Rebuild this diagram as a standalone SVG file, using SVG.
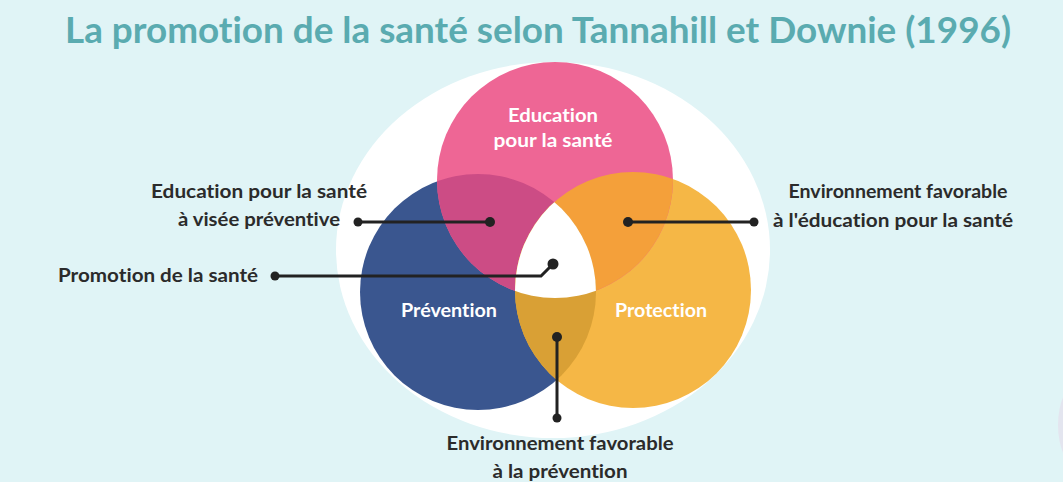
<svg xmlns="http://www.w3.org/2000/svg" width="1063" height="482" viewBox="0 0 1063 482">
<style>
.t{font-family:Lato,"Open Sans","Liberation Sans",sans-serif;font-weight:700;font-variant-ligatures:none;font-feature-settings:"liga" 0,"dlig" 0;}
.lab{font-size:18px;fill:#2b2b2b;}
.in{font-size:19px;fill:#ffffff;}
.ln{stroke:#222;stroke-width:3;fill:none;}
.dot{fill:#222;}
</style>
<defs>
<clipPath id="cPink"><circle cx="555" cy="180" r="118"/></clipPath>
<clipPath id="cBlue"><circle cx="478" cy="292" r="118"/></clipPath>
<clipPath id="cOrange"><circle cx="633" cy="290" r="118"/></clipPath>
</defs>
<rect width="1063" height="482" fill="#e0f4f6"/>
<ellipse cx="1078" cy="425" rx="20" ry="42" fill="#e3e5ef"/>
<text class="t" x="538" y="43" text-anchor="middle" font-size="37" fill="#5aabb0" textLength="946" lengthAdjust="spacingAndGlyphs">La promotion de la santé selon Tannahill et Downie (1996)</text>
<ellipse cx="553" cy="250" rx="217" ry="188" fill="#ffffff"/>
<g id="prevention">
<circle cx="478" cy="292" r="118" fill="#3a568f"/>
<text class="t in" x="449" y="317" text-anchor="middle" textLength="96" lengthAdjust="spacingAndGlyphs">Prévention</text>
</g>
<g id="protection">
<circle cx="633" cy="290" r="118" fill="#f5b746"/>
</g>
<g id="education">
<circle cx="555" cy="180" r="118" fill="#ee6695"/>
</g>
<g id="overlaps">
<g clip-path="url(#cPink)"><circle cx="478" cy="292" r="118" fill="#cc4c85"/></g>
<g clip-path="url(#cPink)"><circle cx="633" cy="290" r="118" fill="#f4a03a"/></g>
<g clip-path="url(#cBlue)"><circle cx="633" cy="290" r="118" fill="#d9a035"/></g>
<g clip-path="url(#cBlue)"><g clip-path="url(#cPink)"><circle cx="633" cy="290" r="118" fill="#ffffff"/></g></g>
</g>
<g id="circle-labels">
<text class="t in" x="553" y="122" text-anchor="middle" textLength="90" lengthAdjust="spacingAndGlyphs">Education</text>
<text class="t in" x="553" y="147" text-anchor="middle" textLength="119" lengthAdjust="spacingAndGlyphs">pour la santé</text>
<text class="t in" x="661" y="317" text-anchor="middle" textLength="92" lengthAdjust="spacingAndGlyphs">Protection</text>
</g>
<g id="connectors">
<line class="ln" x1="358" y1="222" x2="490" y2="222"/>
<circle class="dot" cx="358" cy="222" r="4.5"/><circle class="dot" cx="490" cy="222" r="5"/>
<line class="ln" x1="628" y1="222" x2="754" y2="222"/>
<circle class="dot" cx="628" cy="222" r="5"/><circle class="dot" cx="754" cy="222" r="4.5"/>
<polyline class="ln" points="275,276 541,276 553,264"/>
<circle class="dot" cx="275" cy="276" r="4.5"/><circle class="dot" cx="553" cy="264" r="5.5"/>
<line class="ln" x1="557" y1="337" x2="557" y2="418"/>
<circle class="dot" cx="557" cy="337" r="5"/><circle class="dot" cx="557" cy="418" r="4.5"/>
</g>
<g id="label-edu-prev">
<text class="t lab" x="367" y="198" text-anchor="end" textLength="216" lengthAdjust="spacingAndGlyphs">Education pour la santé</text>
<text class="t lab" x="340" y="226" text-anchor="end" textLength="162" lengthAdjust="spacingAndGlyphs">à visée préventive</text>
</g>
<g id="label-promo">
<text class="t lab" x="258" y="282" text-anchor="end" textLength="200" lengthAdjust="spacingAndGlyphs">Promotion de la santé</text>
</g>
<g id="label-env-edu">
<text class="t lab" x="898" y="198" text-anchor="middle" textLength="219" lengthAdjust="spacingAndGlyphs">Environnement favorable</text>
<text class="t lab" x="893" y="227" text-anchor="middle" textLength="240" lengthAdjust="spacingAndGlyphs">à l'éducation pour la santé</text>
</g>
<g id="label-env-prev">
<text class="t lab" x="560" y="450" text-anchor="middle" textLength="227" lengthAdjust="spacingAndGlyphs">Environnement favorable</text>
<text class="t lab" x="560" y="478" text-anchor="middle" textLength="135" lengthAdjust="spacingAndGlyphs">à la prévention</text>
</g>
</svg>
